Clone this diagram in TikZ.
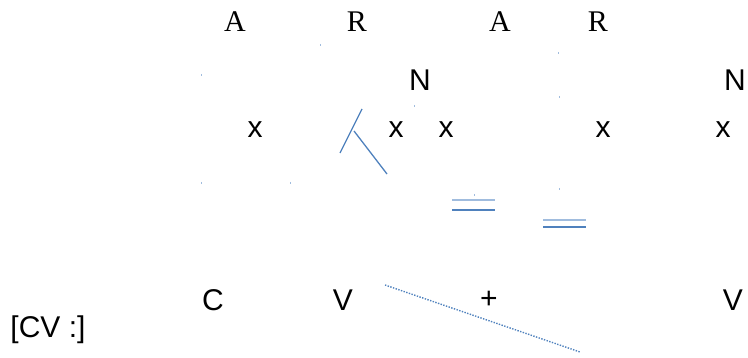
\documentclass[tikz,border=0pt]{standalone}
\usepackage{fontspec}
\setmainfont{Liberation Serif}
\setsansfont{Liberation Sans}
\definecolor{ablue}{RGB}{79,129,189}
\definecolor{lblue}{RGB}{160,188,222}
\begin{document}
\begin{tikzpicture}[x=1pt,y=-1pt,
  ser/.style={font=\fontsize{30}{33}\selectfont, inner sep=0pt, anchor=center},
  san/.style={font=\sffamily\fontsize{30}{33}\selectfont, inner sep=0pt, anchor=center},
  bl/.style={draw=ablue, line width=1.3pt},
  speck/.style={draw=lblue, line width=0.6pt}]
\useasboundingbox (0,0) rectangle (748,358);
% top row
\node[ser] (a1) at (235,22) {A};
\node[ser] (r1) at (357,22) {R};
\node[ser] (a2) at (500,22) {A};
\node[ser] (r2) at (598,22) {R};
% N row
\node[san] (n1) at (420,80) {N};
\node[san] (n2) at (735,80) {N};
% x row
\node[san] (x1) at (255,130) {x};
\node[san] (x2) at (396,130) {x};
\node[san] (x3) at (446,130) {x};
\node[san] (x4) at (603,130) {x};
\node[san] (x5) at (723,130) {x};
% bottom row
\node[san] (c) at (213,300) {C};
\node[san] (v1) at (343,300) {V};
\node[san] (p) at (489,300) {+};
\node[san] (v2) at (733,300) {V};
\node[san] (cv) at (48,330) {[CV :]};
% slanted lines
\coordinate (s1a) at (362,109);
\coordinate (s1b) at (340,153);
\coordinate (s2a) at (354,131);
\coordinate (s2b) at (387,174);
\draw[bl] (s1a) -- (s1b);
\draw[bl] (s2a) -- (s2b);
% double lines
\coordinate (d1a) at (452,200); \coordinate (d1b) at (495,200);
\coordinate (d2a) at (452,210); \coordinate (d2b) at (495,210);
\coordinate (d3a) at (543,220); \coordinate (d3b) at (586,220);
\coordinate (d4a) at (543,227); \coordinate (d4b) at (586,227);
\draw[draw=lblue, line width=1.2pt] (d1a) -- (d1b);
\draw[bl] (d2a) -- (d2b);
\draw[draw=lblue, line width=1.5pt] (d3a) -- (d3b);
\draw[bl, line width=1.5pt] (d4a) -- (d4b);
% dotted line
\coordinate (t1) at (385,285);
\coordinate (t2) at (580,352);
\draw[draw=ablue, line width=1.4pt, dash pattern=on 1.4pt off 1.4pt] (t1) -- (t2);
% specks
\foreach \px/\py in {201/75, 320/45, 558/53, 559/97, 414/106, 201/183, 290/183, 474/195, 559/189}
  \draw[speck] (\px,\py-1) -- (\px,\py+1);
\end{tikzpicture}
\end{document}
